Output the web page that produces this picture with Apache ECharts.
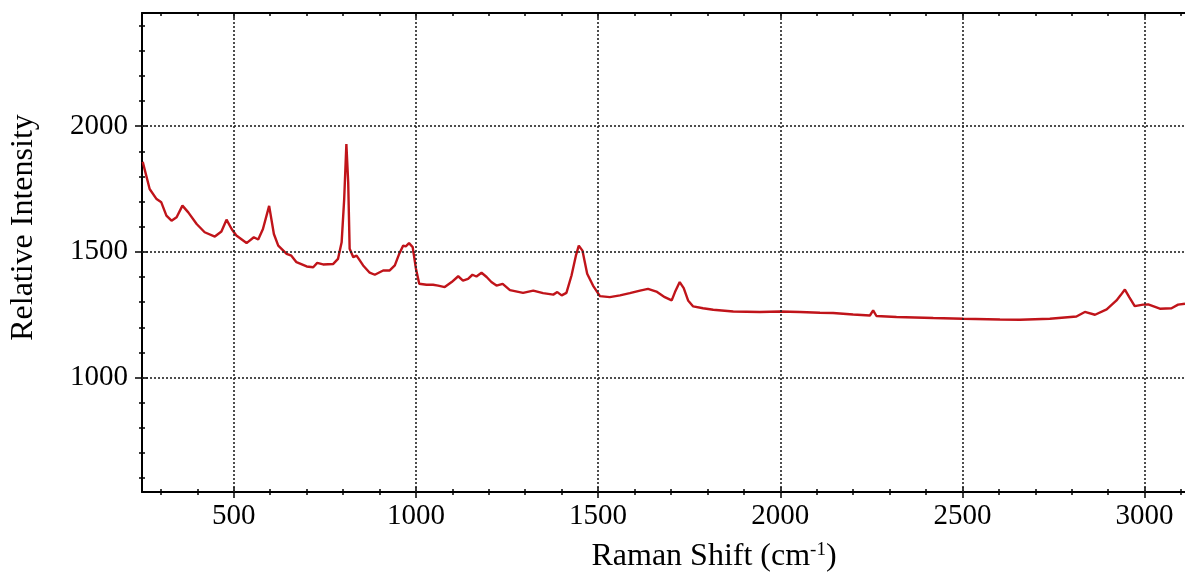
<!DOCTYPE html>
<html>
<head>
<meta charset="utf-8">
<script src="https://cdn.jsdelivr.net/npm/echarts@6/dist/echarts.min.js"></script>
<style>html,body{margin:0;padding:0;background:#fff;}#c{width:1185px;height:574px;}</style>
</head>
<body>
<div id="c"></div>
<script>
// ---- data ----
const ramanShift = [250,269,288,301,315,329,343,359,375,398,420,448,466,480,494,507,535,555,567,580,597,610,622,645,658,672,700,718,729,745,773,786,796,803,809,814,818,828,837,855,873,887,910,928,942,954,965,972,981,991,1000,1009,1029,1047,1061,1079,1098,1116,1129,1143,1155,1166,1180,1194,1207,1221,1238,1258,1294,1322,1349,1377,1388,1400,1413,1427,1439,1447,1457,1470,1486,1505,1532,1560,1587,1615,1637,1660,1683,1702,1711,1724,1735,1747,1761,1788,1816,1871,1944,1999,2054,2109,2145,2200,2246,2255,2264,2319,2420,2502,2603,2658,2740,2813,2836,2864,2896,2923,2934,2946,2958,2973,2996,3010,3042,3074,3092,3111];
const intensity = [1858,1750,1710,1697,1644,1624,1638,1684,1657,1611,1578,1561,1581,1628,1591,1565,1535,1558,1549,1591,1683,1571,1525,1492,1485,1459,1442,1439,1456,1450,1452,1472,1538,1710,1929,1777,1512,1479,1485,1446,1417,1409,1426,1426,1446,1492,1525,1522,1535,1519,1433,1373,1369,1369,1366,1360,1380,1403,1386,1393,1409,1402,1417,1400,1380,1366,1373,1348,1337,1346,1336,1330,1340,1327,1337,1406,1485,1525,1505,1413,1366,1324,1320,1327,1336,1346,1353,1342,1320,1307,1340,1380,1356,1307,1283,1276,1270,1263,1261,1263,1261,1258,1257,1251,1247,1267,1245,1241,1237,1234,1231,1230,1234,1243,1261,1250,1271,1307,1327,1350,1320,1284,1290,1291,1274,1276,1290,1294];
const xMinorTicks = [300,400,500,600,700,800,900,1000,1100,1200,1300,1400,1500,1600,1700,1800,1900,2000,2100,2200,2300,2400,2500,2600,2700,2800,2900,3000,3100];
const xMajorTicks = [500,1000,1500,2000,2500,3000];
const yMinorTicks = [600,700,800,900,1000,1100,1200,1300,1400,1500,1600,1700,1800,1900,2000,2100,2200,2300,2400];
const yMajorTicks = [1000,1500,2000];
const xRange = [248, 3111];
const yRange = [545, 2450];
const xTitle = 'Raman Shift (cm{sup|-1})';
const yTitle = 'Relative Intensity';

// ---- chart ----
const FONT = 'Liberation Serif';
const AX = '#000';
function extraAxis(kind, pos, ticks, inside, len, showLine) {
  return {
    type: 'value', position: pos,
    min: kind === 'x' ? xRange[0] : yRange[0],
    max: kind === 'x' ? xRange[1] : yRange[1],
    axisLine: { show: !!showLine, lineStyle: { color: AX, width: 2 } },
    axisTick: { show: true, inside: inside, length: len, customValues: ticks, lineStyle: { color: AX, width: 1.5 } },
    axisLabel: { show: false },
    splitLine: { show: false },
    silent: true
  };
}

const chart = echarts.init(document.getElementById('c'), null, { renderer: 'canvas' });
const option = {
  animation: false,
  backgroundColor: '#fff',
  grid: { left: 142, right: 0, top: 13, bottom: 82, containLabel: false, outerBoundsMode: 'none' },
  xAxis: [
    {
      type: 'value', position: 'bottom', min: xRange[0], max: xRange[1],
      axisLine: { show: true, lineStyle: { color: AX, width: 2 } },
      axisTick: { show: true, inside: false, length: 3, customValues: xMinorTicks, lineStyle: { color: AX, width: 1.5 } },
      axisLabel: { show: true, customValues: xMajorTicks, margin: 10, color: '#000', fontFamily: FONT, fontSize: 29,
        formatter: v => String(v) },
      splitLine: { show: false },
      name: xTitle, nameLocation: 'middle', nameGap: 49,
      nameTextStyle: { color: '#000', fontFamily: FONT, fontSize: 32, padding: [0, 0, 0, 101],
        rich: { sup: { fontFamily: FONT, fontSize: 19, verticalAlign: 'top', color: '#000' } } }
    },
    extraAxis('x', 'bottom', xMinorTicks, true, 3, false),
    extraAxis('x', 'bottom', xMajorTicks, true, 5, false),
    extraAxis('x', 'bottom', xMajorTicks, false, 6, false),
    extraAxis('x', 'top', xMinorTicks, true, 3, true),
    extraAxis('x', 'top', xMajorTicks, true, 5, false)
  ],
  yAxis: [
    {
      type: 'value', position: 'left', min: yRange[0], max: yRange[1],
      axisLine: { show: true, lineStyle: { color: AX, width: 2 } },
      axisTick: { show: true, inside: false, length: 3, customValues: yMinorTicks, lineStyle: { color: AX, width: 1.5 } },
      axisLabel: { show: true, customValues: yMajorTicks, margin: 14, color: '#000', fontFamily: FONT, fontSize: 29,
        formatter: v => String(v) },
      splitLine: { show: false },
      name: yTitle, nameLocation: 'middle', nameGap: 102,
      nameTextStyle: { color: '#000', fontFamily: FONT, fontSize: 32, padding: [0, 0, 0, 50] }
    },
    extraAxis('y', 'left', yMinorTicks, true, 3, false),
    extraAxis('y', 'left', yMajorTicks, true, 6, false),
    extraAxis('y', 'left', yMajorTicks, false, 7, false)
  ],
  series: [
    {
      type: 'line', xAxisIndex: 0, yAxisIndex: 0,
      data: ramanShift.map((x, i) => [x, intensity[i]]),
      showSymbol: false, symbol: 'none', smooth: false,
      lineStyle: { color: '#c0141a', width: 2.4 },
      z: 3,
      markLine: {
        silent: true, symbol: ['none', 'none'], animation: false,
        label: { show: false },
        emphasis: { disabled: true },
        lineStyle: { color: '#222', width: 1.6, type: [2, 2] },
        data: xMajorTicks.map(v => ({ xAxis: v })).concat(yMajorTicks.map(v => ({ yAxis: v })))
      }
    }
  ]
};
chart.setOption(option);
</script>
</body>
</html>
